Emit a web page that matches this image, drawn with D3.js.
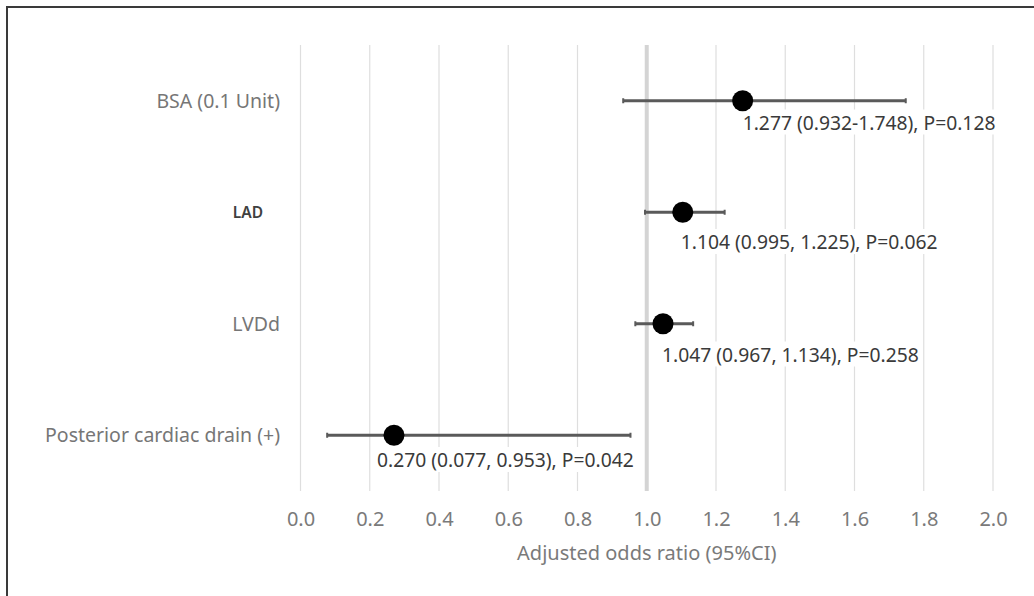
<!DOCTYPE html>
<html>
<head>
<meta charset="utf-8">
<script src="https://cdn.jsdelivr.net/npm/d3@7"></script>
<style>
  html, body { margin: 0; padding: 0; background: #fff; }
  svg { display: block; }
</style>
</head>
<body>
<svg id="chart" width="1034" height="596"></svg>
<script>
// ---- data ----
const categories = ["BSA (0.1 Unit)", "LAD", "LVDd", "Posterior cardiac drain (+)"];
const oddsRatio = [1.277, 1.104, 1.047, 0.270];
const ciLower = [0.932, 0.995, 0.967, 0.077];
const ciUpper = [1.748, 1.225, 1.134, 0.953];
const annotations = [
  "1.277 (0.932-1.748), P=0.128",
  "1.104 (0.995, 1.225), P=0.062",
  "1.047 (0.967, 1.134), P=0.258",
  "0.270 (0.077, 0.953), P=0.042"
];
const xTicks = [0.0, 0.2, 0.4, 0.6, 0.8, 1.0, 1.2, 1.4, 1.6, 1.8, 2.0];
const axisTitle = "Adjusted odds ratio (95%CI)";
const refValue = 1.0;

// ---- layout (not data) ----
const labelShiftX = [0, -2, -1, -17];
const labelShiftY = [22, 30, 31, 25];

const svg = d3.select("#chart");
const W = 1034, H = 596;
const plot = { left: 300.5, right: 993, top: 45, bottom: 491 };

// frame
svg.append("line").attr("x1", 7).attr("x2", W).attr("y1", 7).attr("y2", 7)
  .attr("stroke", "#3a3a3a").attr("stroke-width", 2);
svg.append("line").attr("x1", 7).attr("x2", 7).attr("y1", 6).attr("y2", H)
  .attr("stroke", "#3a3a3a").attr("stroke-width", 2);

const x = d3.scaleLinear().domain([0, 2]).range([plot.left, plot.right]);
const y = d3.scaleBand().domain(categories).range([plot.top, plot.bottom]).padding(0);
const yc = c => y(c) + y.bandwidth() / 2;

// gridlines
svg.append("g").selectAll("line").data(xTicks).join("line")
  .attr("x1", d => x(d)).attr("x2", d => x(d))
  .attr("y1", plot.top).attr("y2", plot.bottom)
  .attr("stroke", "#dedede").attr("stroke-width", 1.2);

// reference line at 1.0
svg.append("line")
  .attr("x1", x(refValue)).attr("x2", x(refValue))
  .attr("y1", plot.top).attr("y2", plot.bottom)
  .attr("stroke", "#d4d4d4").attr("stroke-width", 4);

// x axis tick labels via d3 axis
const xAxis = d3.axisBottom(x).tickValues(xTicks).tickFormat(d3.format(".1f")).tickSize(0).tickPadding(0);
const gx = svg.append("g").attr("transform", `translate(0,${plot.bottom + 21})`).call(xAxis);
gx.select(".domain").remove();
gx.selectAll("text")
  .attr("font-family", "'Noto Sans', sans-serif")
  .attr("font-size", 20)
  .attr("fill", "#7a7a7a")
  .attr("dy", "0.71em");

// axis title
svg.append("text")
  .attr("x", (plot.left + plot.right) / 2)
  .attr("y", 553)
  .attr("dy", "0.35em")
  .attr("text-anchor", "middle")
  .attr("font-family", "'Noto Sans', sans-serif")
  .attr("font-size", 20)
  .attr("fill", "#7a7a7a")
  .text(axisTitle);

// category labels
svg.append("g").selectAll("text").data(categories).join("text")
  .attr("x", (d, i) => i === 1 ? 263 : 280)
  .attr("y", d => yc(d))
  .attr("dy", "0.35em")
  .attr("text-anchor", "end")
  .attr("font-family", "'Noto Sans', sans-serif")
  .attr("font-size", (d, i) => i === 1 ? 15.5 : 19.5)
  .attr("font-weight", (d, i) => i === 1 ? 600 : "normal")
  .attr("fill", (d, i) => i === 1 ? "#404040" : "#767676")
  .text(d => d);

// error bars
const rows = categories.map((c, i) => ({ c, i, or: oddsRatio[i], lo: ciLower[i], hi: ciUpper[i], label: annotations[i] }));
const eb = svg.append("g");
eb.selectAll("line.bar").data(rows).join("line").attr("class", "bar")
  .attr("x1", d => x(d.lo)).attr("x2", d => x(d.hi))
  .attr("y1", d => yc(d.c)).attr("y2", d => yc(d.c))
  .attr("stroke", "#5a5a5a").attr("stroke-width", 3);
eb.selectAll("line.capL").data(rows).join("line").attr("class", "capL")
  .attr("x1", d => x(d.lo)).attr("x2", d => x(d.lo))
  .attr("y1", d => yc(d.c) - 2.5).attr("y2", d => yc(d.c) + 2.5)
  .attr("stroke", "#5a5a5a").attr("stroke-width", 2);
eb.selectAll("line.capR").data(rows).join("line").attr("class", "capR")
  .attr("x1", d => x(d.hi)).attr("x2", d => x(d.hi))
  .attr("y1", d => yc(d.c) - 2.5).attr("y2", d => yc(d.c) + 2.5)
  .attr("stroke", "#5a5a5a").attr("stroke-width", 2);

// annotation labels with white backgrounds
const lg = svg.append("g");
rows.forEach(d => {
  const g = lg.append("g");
  const t = g.append("text")
    .attr("x", x(d.or) + labelShiftX[d.i])
    .attr("y", yc(d.c) + labelShiftY[d.i])
    .attr("dy", "0.35em")
    .attr("font-family", "'Noto Sans', sans-serif")
    .attr("font-size", 19.3)
    .attr("fill", "#3a3a3a")
    .text(d.label);
  const bb = t.node().getBBox();
  g.insert("rect", "text")
    .attr("x", bb.x - 2).attr("y", bb.y + 1)
    .attr("width", bb.width + 4).attr("height", bb.height - 2)
    .attr("fill", "#fff");
});

// points
svg.append("g").selectAll("circle").data(rows).join("circle")
  .attr("cx", d => x(d.or)).attr("cy", d => yc(d.c))
  .attr("r", 10.5).attr("fill", "#000");
</script>
</body>
</html>
